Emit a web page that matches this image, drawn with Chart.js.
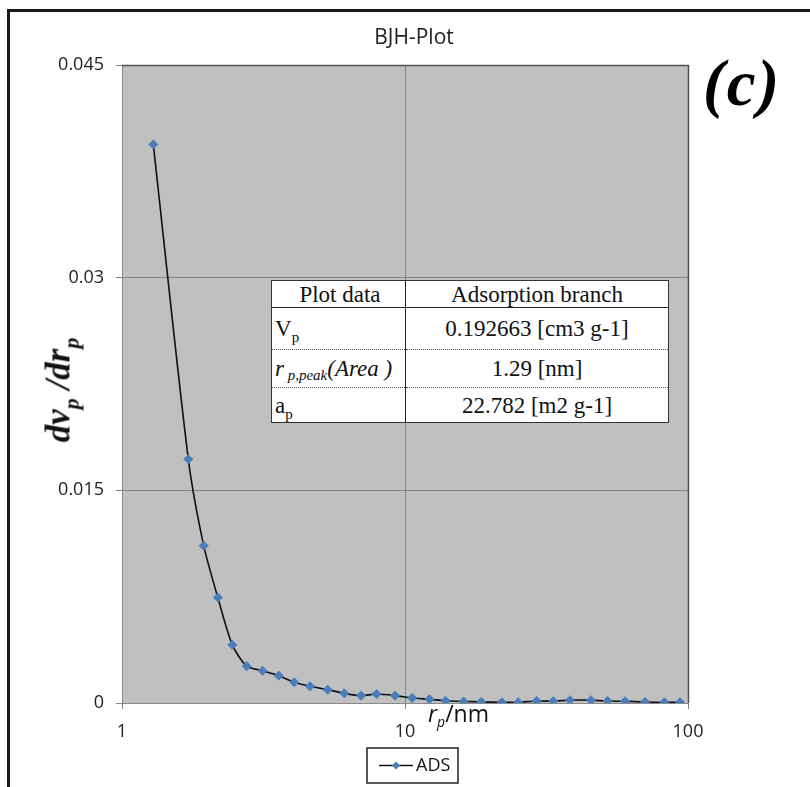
<!DOCTYPE html>
<html>
<head>
<meta charset="utf-8">
<title>BJH-Plot</title>
<script src="https://cdn.jsdelivr.net/npm/chart.js@4.4.1/dist/chart.umd.min.js"></script>
<style>
    html, body { margin: 0; padding: 0; background: #fff; }
    #wrap { position: relative; width: 810px; height: 787px; overflow: hidden; }
    #bjh { position: absolute; left: 0; top: 0; }

    /* axis titles and panel letter sit on top of the canvas */
    .ytitle {
        position: absolute; left: 58px; top: 390px;
        transform: translate(-50%, -50%) rotate(-90deg);
        font: italic bold 35px "Liberation Serif", serif;
        line-height: 1; white-space: nowrap; color: #111;
    }
    .ytitle span { font-size: 22px; position: relative; top: 9px; }
    .xtitle {
        position: absolute; left: 428px; top: 702px;
        font: 23px "Open Sans", sans-serif; line-height: 1;
        white-space: nowrap; color: #111;
    }
    .xtitle span { font-size: 14px; font-style: italic; position: relative; top: 5px; }
    .panel {
        position: absolute; left: 703px; top: 51px;
        font: italic bold 65px "Liberation Serif", serif; line-height: 1; color: #000;
        letter-spacing: 2px;
    }

    /* summary table over the plot */
    #info {
        position: absolute; left: 271px; top: 280px; width: 398px;
        border-collapse: collapse; background: #fff;
        font: 23px "Liberation Serif", serif; color: #111;
        border: 1px solid #333;
    }
    #info td { padding: 0; text-align: center; vertical-align: middle; line-height: 1; }
    #info td.lab { text-align: left; padding-left: 3px; width: 130px; border-right: 1px solid #222; }
    #info tr { border-bottom: 1px dotted #555; }
    #info tr.hd { border-bottom: 1px solid #222; }
    #info .sm { font-size: 15px; position: relative; top: 6px; }
</style>
</head>
<body>
<div id="wrap">
    <canvas id="bjh" width="810" height="787"></canvas>

    <div class="ytitle">dv<span>p</span> /dr<span>p</span></div>
    <div class="xtitle"><i>r</i><span>p</span>/nm</div>
    <div class="panel">(c)</div>

    <table id="info">
        <tr class="hd" style="height:27px"><td class="lab" style="text-align:center">Plot data</td><td>Adsorption branch</td></tr>
        <tr style="height:42px"><td class="lab">V<span class="sm">p</span></td><td>0.192663 [cm3 g-1]</td></tr>
        <tr style="height:38px"><td class="lab"><i>r</i><i class="sm" style="top:4px"> p,peak</i><i>(Area )</i></td><td>1.29 [nm]</td></tr>
        <tr style="height:35px"><td class="lab">a<span class="sm">p</span></td><td>22.782 [m2 g-1]</td></tr>
    </table>
</div>

<script>
'use strict';

// pore radius r_p [nm] and dVp/drp, adsorption branch
const rp = [1.29, 1.715, 1.944, 2.18, 2.454, 2.758, 3.14, 3.58, 4.06, 4.62,
            5.33, 6.10, 6.99, 7.94, 9.22, 10.6, 12.2, 13.9, 16.1, 18.6,
            22.0, 25.1, 29.2, 33.4, 38.3, 45.4, 52.0, 59.9, 70.5, 82.5, 93.7];
const dvdr = [0.0394, 0.0172, 0.0111, 0.00745, 0.0041, 0.0026, 0.00228, 0.00193, 0.00146, 0.00118,
              0.00094, 0.00068, 0.00052, 0.00063, 0.00052, 0.00035, 0.00026, 0.00016, 0.00011, 0.00008,
              0.00005, 0.00005, 0.00014, 0.00013, 0.0002, 0.0002, 0.00014, 0.00012, 0.00007, 0.00005, 0.00005];

const xTicks = [1, 10, 100];
const yTicks = [0, 0.015, 0.03, 0.045];
const seriesName = 'ADS';
const chartTitle = 'BJH-Plot';

const markerBlue = '#4a7ebb';
const gridGray = '#858585';

// gray plot area, outer frame, title and boxed legend
const decorations = {
    id: 'decorations',
    beforeDraw(chart) {
        let ctx = chart.ctx;
        let a = chart.chartArea;
        ctx.save();
        ctx.fillStyle = '#fff';
        ctx.fillRect(0, 0, chart.width, chart.height);
        ctx.fillStyle = '#c0c0c0';
        ctx.fillRect(a.left, a.top, a.right - a.left, a.bottom - a.top);
        ctx.restore();
    },
    afterDraw(chart) {
        let ctx = chart.ctx;
        let a = chart.chartArea;
        ctx.save();

        // darker top and right edges of the plot area
        ctx.strokeStyle = '#505050';
        ctx.lineWidth = 1.5;
        ctx.beginPath();
        ctx.moveTo(a.left, a.top + 0.5);
        ctx.lineTo(a.right + 0.5, a.top + 0.5);
        ctx.lineTo(a.right + 0.5, a.bottom);
        ctx.stroke();

        // frame around the figure
        ctx.fillStyle = '#1a1a1a';
        ctx.fillRect(7, 9, 3, chart.height);
        ctx.fillRect(7, 9, chart.width, 3);

        // title
        ctx.fillStyle = '#222';
        ctx.font = '21px "Open Sans", sans-serif';
        ctx.textAlign = 'center';
        ctx.textBaseline = 'middle';
        ctx.fillText(chartTitle, 414, 38);

        // legend box
        ctx.strokeStyle = '#222';
        ctx.lineWidth = 1.5;
        ctx.strokeRect(367, 748, 91, 35);
        ctx.strokeStyle = '#111';
        ctx.lineWidth = 1.5;
        ctx.beginPath();
        ctx.moveTo(379, 765.5);
        ctx.lineTo(413, 765.5);
        ctx.stroke();
        ctx.fillStyle = markerBlue;
        ctx.beginPath();
        ctx.moveTo(396, 761.5);
        ctx.lineTo(400, 765.5);
        ctx.lineTo(396, 769.5);
        ctx.lineTo(392, 765.5);
        ctx.closePath();
        ctx.fill();
        ctx.fillStyle = '#111';
        ctx.font = '18px "Open Sans", sans-serif';
        ctx.textAlign = 'left';
        ctx.fillText(seriesName, 416, 766);

        ctx.restore();
    }
};

function drawChart() {
    let ctx = document.getElementById('bjh').getContext('2d');
    let points = rp.map((r, i) => ({x: r, y: dvdr[i]}));

    return new Chart(ctx, {
        type: 'line',
        data: {
            datasets: [{
                label: seriesName,
                data: points,
                borderColor: '#111',
                borderWidth: 1.6,
                tension: 0.25,
                pointStyle: 'rectRot',
                pointRadius: 4.5,
                pointBackgroundColor: markerBlue,
                pointBorderColor: markerBlue,
                pointBorderWidth: 1,
                fill: false
            }]
        },
        options: {
            responsive: false,
            animation: false,
            events: [],
            devicePixelRatio: 1,
            layout: { padding: { top: 65, left: 0, right: 122, bottom: 44 } },
            plugins: {
                legend: { display: false },
                title: { display: false },
                tooltip: { enabled: false }
            },
            scales: {
                x: {
                    type: 'logarithmic',
                    min: 1,
                    max: 100,
                    afterBuildTicks: (s) => { s.ticks = xTicks.map(v => ({value: v})); },
                    afterFit: (s) => { s.height = 40; },
                    ticks: {
                        color: '#222',
                        padding: 12,
                        maxRotation: 0,
                        font: { family: '"Open Sans", sans-serif', size: 18 },
                        callback: (v) => String(v)
                    },
                    grid: { color: gridGray, tickColor: gridGray, tickLength: 6, lineWidth: 1 },
                    border: { color: '#8a8a8a', width: 1 }
                },
                y: {
                    min: 0,
                    max: 0.045,
                    afterBuildTicks: (s) => { s.ticks = yTicks.map(v => ({value: v})); },
                    afterFit: (s) => { s.width = 122; },
                    ticks: {
                        color: '#222',
                        padding: 12,
                        font: { family: '"Open Sans", sans-serif', size: 18 },
                        callback: (v) => String(+v.toFixed(3))
                    },
                    grid: { color: gridGray, tickColor: gridGray, tickLength: 6, lineWidth: 1 },
                    border: { color: '#8a8a8a', width: 1 }
                }
            }
        },
        plugins: [decorations]
    });
}

drawChart();
</script>
</body>
</html>
